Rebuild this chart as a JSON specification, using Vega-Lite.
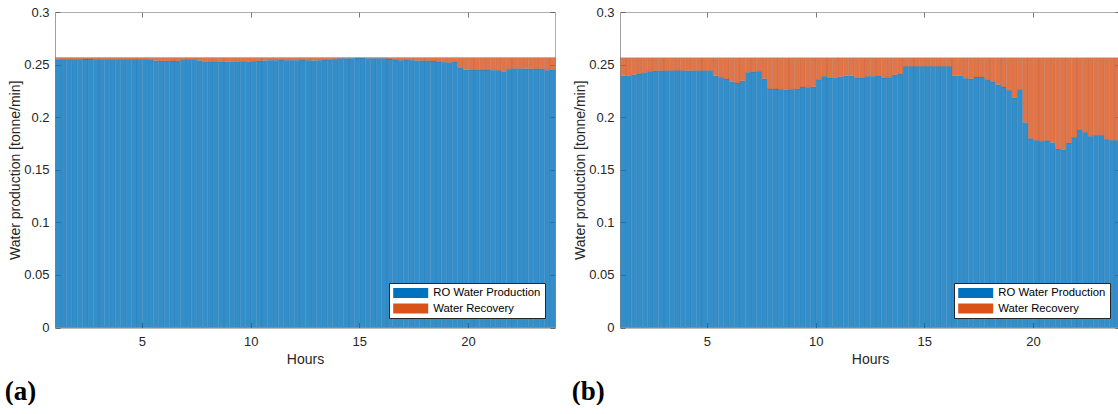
{
  "$schema": "https://vega.github.io/schema/vega-lite/v6.json",
  "padding": {"left": 4, "top": 6, "right": 0, "bottom": 0},
  "config": {
    "font": "Liberation Sans",
    "view": {"stroke": null},
    "axis": {
      "labelFont": "Liberation Sans",
      "labelFontSize": 13,
      "labelColor": "#262626",
      "titleFont": "Liberation Sans",
      "titleFontSize": 14,
      "titleFontWeight": "normal",
      "titleColor": "#262626",
      "grid": false,
      "tickSize": -5,
      "tickWidth": 0.8,
      "domainWidth": 0.8,
      "labelFlush": false
    },
    "legend": {
      "labelFont": "Liberation Sans",
      "labelFontSize": 11.3,
      "labelColor": "#000000",
      "strokeColor": "#262626",
      "fillColor": "#ffffff",
      "padding": 4,
      "rowPadding": 3.5,
      "symbolOffset": 11.7,
      "labelOffset": 16.6
    }
  },
  "datasets": {
    "a": [
      {"h": 1.0, "ro": 0.2545, "wr": 0.0023}, {"h": 1.25, "ro": 0.2550, "wr": 0.0018},
      {"h": 1.5, "ro": 0.2551, "wr": 0.0017}, {"h": 1.75, "ro": 0.2551, "wr": 0.0017},
      {"h": 2.0, "ro": 0.2551, "wr": 0.0017}, {"h": 2.25, "ro": 0.2552, "wr": 0.0016},
      {"h": 2.5, "ro": 0.2552, "wr": 0.0016}, {"h": 2.75, "ro": 0.2551, "wr": 0.0017},
      {"h": 3.0, "ro": 0.2551, "wr": 0.0017}, {"h": 3.25, "ro": 0.2551, "wr": 0.0017},
      {"h": 3.5, "ro": 0.2551, "wr": 0.0017}, {"h": 3.75, "ro": 0.2551, "wr": 0.0017},
      {"h": 4.0, "ro": 0.2551, "wr": 0.0017}, {"h": 4.25, "ro": 0.2551, "wr": 0.0017},
      {"h": 4.5, "ro": 0.2550, "wr": 0.0018}, {"h": 4.75, "ro": 0.2550, "wr": 0.0018},
      {"h": 5.0, "ro": 0.2550, "wr": 0.0018}, {"h": 5.25, "ro": 0.2548, "wr": 0.0020},
      {"h": 5.5, "ro": 0.2537, "wr": 0.0031}, {"h": 5.75, "ro": 0.2535, "wr": 0.0033},
      {"h": 6.0, "ro": 0.2535, "wr": 0.0033}, {"h": 6.25, "ro": 0.2534, "wr": 0.0034},
      {"h": 6.5, "ro": 0.2536, "wr": 0.0032}, {"h": 6.75, "ro": 0.2548, "wr": 0.0020},
      {"h": 7.0, "ro": 0.2551, "wr": 0.0017}, {"h": 7.25, "ro": 0.2550, "wr": 0.0018},
      {"h": 7.5, "ro": 0.2540, "wr": 0.0028}, {"h": 7.75, "ro": 0.2527, "wr": 0.0041},
      {"h": 8.0, "ro": 0.2526, "wr": 0.0042}, {"h": 8.25, "ro": 0.2526, "wr": 0.0042},
      {"h": 8.5, "ro": 0.2527, "wr": 0.0041}, {"h": 8.75, "ro": 0.2528, "wr": 0.0040},
      {"h": 9.0, "ro": 0.2530, "wr": 0.0038}, {"h": 9.25, "ro": 0.2530, "wr": 0.0038},
      {"h": 9.5, "ro": 0.2532, "wr": 0.0036}, {"h": 9.75, "ro": 0.2530, "wr": 0.0038},
      {"h": 10.0, "ro": 0.2531, "wr": 0.0037}, {"h": 10.25, "ro": 0.2536, "wr": 0.0032},
      {"h": 10.5, "ro": 0.2540, "wr": 0.0028}, {"h": 10.75, "ro": 0.2542, "wr": 0.0026},
      {"h": 11.0, "ro": 0.2542, "wr": 0.0026}, {"h": 11.25, "ro": 0.2543, "wr": 0.0025},
      {"h": 11.5, "ro": 0.2542, "wr": 0.0026}, {"h": 11.75, "ro": 0.2541, "wr": 0.0027},
      {"h": 12.0, "ro": 0.2542, "wr": 0.0026}, {"h": 12.25, "ro": 0.2543, "wr": 0.0025},
      {"h": 12.5, "ro": 0.2541, "wr": 0.0027}, {"h": 12.75, "ro": 0.2540, "wr": 0.0028},
      {"h": 13.0, "ro": 0.2542, "wr": 0.0026}, {"h": 13.25, "ro": 0.2543, "wr": 0.0025},
      {"h": 13.5, "ro": 0.2545, "wr": 0.0023}, {"h": 13.75, "ro": 0.2550, "wr": 0.0018},
      {"h": 14.0, "ro": 0.2560, "wr": 0.0008}, {"h": 14.25, "ro": 0.2561, "wr": 0.0007},
      {"h": 14.5, "ro": 0.2561, "wr": 0.0007}, {"h": 14.75, "ro": 0.2562, "wr": 0.0006},
      {"h": 15.0, "ro": 0.2562, "wr": 0.0006}, {"h": 15.25, "ro": 0.2561, "wr": 0.0007},
      {"h": 15.5, "ro": 0.2561, "wr": 0.0007}, {"h": 15.75, "ro": 0.2561, "wr": 0.0007},
      {"h": 16.0, "ro": 0.2560, "wr": 0.0008}, {"h": 16.25, "ro": 0.2552, "wr": 0.0016},
      {"h": 16.5, "ro": 0.2543, "wr": 0.0025}, {"h": 16.75, "ro": 0.2542, "wr": 0.0026},
      {"h": 17.0, "ro": 0.2543, "wr": 0.0025}, {"h": 17.25, "ro": 0.2542, "wr": 0.0026},
      {"h": 17.5, "ro": 0.2540, "wr": 0.0028}, {"h": 17.75, "ro": 0.2538, "wr": 0.0030},
      {"h": 18.0, "ro": 0.2536, "wr": 0.0032}, {"h": 18.25, "ro": 0.2533, "wr": 0.0035},
      {"h": 18.5, "ro": 0.2526, "wr": 0.0042}, {"h": 18.75, "ro": 0.2522, "wr": 0.0046},
      {"h": 19.0, "ro": 0.2520, "wr": 0.0048}, {"h": 19.25, "ro": 0.2524, "wr": 0.0044},
      {"h": 19.5, "ro": 0.2472, "wr": 0.0096}, {"h": 19.75, "ro": 0.2452, "wr": 0.0116},
      {"h": 20.0, "ro": 0.2449, "wr": 0.0119}, {"h": 20.25, "ro": 0.2449, "wr": 0.0119},
      {"h": 20.5, "ro": 0.2448, "wr": 0.0120}, {"h": 20.75, "ro": 0.2448, "wr": 0.0120},
      {"h": 21.0, "ro": 0.2447, "wr": 0.0121}, {"h": 21.25, "ro": 0.2445, "wr": 0.0123},
      {"h": 21.5, "ro": 0.2434, "wr": 0.0134}, {"h": 21.75, "ro": 0.2455, "wr": 0.0113},
      {"h": 22.0, "ro": 0.2463, "wr": 0.0105}, {"h": 22.25, "ro": 0.2463, "wr": 0.0105},
      {"h": 22.5, "ro": 0.2461, "wr": 0.0107}, {"h": 22.75, "ro": 0.2461, "wr": 0.0107},
      {"h": 23.0, "ro": 0.2462, "wr": 0.0106}, {"h": 23.25, "ro": 0.2460, "wr": 0.0108},
      {"h": 23.5, "ro": 0.2446, "wr": 0.0122}, {"h": 23.75, "ro": 0.2449, "wr": 0.0119}
    ],
    "b": [
      {"h": 1.0, "ro": 0.2395, "wr": 0.0171}, {"h": 1.25, "ro": 0.2397, "wr": 0.0169},
      {"h": 1.5, "ro": 0.2404, "wr": 0.0162}, {"h": 1.75, "ro": 0.2410, "wr": 0.0156},
      {"h": 2.0, "ro": 0.2425, "wr": 0.0141}, {"h": 2.25, "ro": 0.2436, "wr": 0.0130},
      {"h": 2.5, "ro": 0.2440, "wr": 0.0126}, {"h": 2.75, "ro": 0.2443, "wr": 0.0123},
      {"h": 3.0, "ro": 0.2443, "wr": 0.0123}, {"h": 3.25, "ro": 0.2443, "wr": 0.0123},
      {"h": 3.5, "ro": 0.2445, "wr": 0.0121}, {"h": 3.75, "ro": 0.2443, "wr": 0.0123},
      {"h": 4.0, "ro": 0.2442, "wr": 0.0124}, {"h": 4.25, "ro": 0.2443, "wr": 0.0123},
      {"h": 4.5, "ro": 0.2443, "wr": 0.0123}, {"h": 4.75, "ro": 0.2443, "wr": 0.0123},
      {"h": 5.0, "ro": 0.2443, "wr": 0.0123}, {"h": 5.25, "ro": 0.2395, "wr": 0.0171},
      {"h": 5.5, "ro": 0.2380, "wr": 0.0186}, {"h": 5.75, "ro": 0.2363, "wr": 0.0203},
      {"h": 6.0, "ro": 0.2340, "wr": 0.0226}, {"h": 6.25, "ro": 0.2325, "wr": 0.0241},
      {"h": 6.5, "ro": 0.2347, "wr": 0.0219}, {"h": 6.75, "ro": 0.2427, "wr": 0.0139},
      {"h": 7.0, "ro": 0.2430, "wr": 0.0136}, {"h": 7.25, "ro": 0.2436, "wr": 0.0130},
      {"h": 7.5, "ro": 0.2366, "wr": 0.0200}, {"h": 7.75, "ro": 0.2268, "wr": 0.0298},
      {"h": 8.0, "ro": 0.2268, "wr": 0.0298}, {"h": 8.25, "ro": 0.2265, "wr": 0.0301},
      {"h": 8.5, "ro": 0.2261, "wr": 0.0305}, {"h": 8.75, "ro": 0.2265, "wr": 0.0301},
      {"h": 9.0, "ro": 0.2270, "wr": 0.0296}, {"h": 9.25, "ro": 0.2287, "wr": 0.0279},
      {"h": 9.5, "ro": 0.2285, "wr": 0.0281}, {"h": 9.75, "ro": 0.2290, "wr": 0.0276},
      {"h": 10.0, "ro": 0.2357, "wr": 0.0209}, {"h": 10.25, "ro": 0.2389, "wr": 0.0177},
      {"h": 10.5, "ro": 0.2373, "wr": 0.0193}, {"h": 10.75, "ro": 0.2378, "wr": 0.0188},
      {"h": 11.0, "ro": 0.2385, "wr": 0.0181}, {"h": 11.25, "ro": 0.2395, "wr": 0.0171},
      {"h": 11.5, "ro": 0.2395, "wr": 0.0171}, {"h": 11.75, "ro": 0.2373, "wr": 0.0193},
      {"h": 12.0, "ro": 0.2373, "wr": 0.0193}, {"h": 12.25, "ro": 0.2389, "wr": 0.0177},
      {"h": 12.5, "ro": 0.2389, "wr": 0.0177}, {"h": 12.75, "ro": 0.2392, "wr": 0.0174},
      {"h": 13.0, "ro": 0.2373, "wr": 0.0193}, {"h": 13.25, "ro": 0.2380, "wr": 0.0186},
      {"h": 13.5, "ro": 0.2404, "wr": 0.0162}, {"h": 13.75, "ro": 0.2411, "wr": 0.0155},
      {"h": 14.0, "ro": 0.2483, "wr": 0.0083}, {"h": 14.25, "ro": 0.2483, "wr": 0.0083},
      {"h": 14.5, "ro": 0.2483, "wr": 0.0083}, {"h": 14.75, "ro": 0.2483, "wr": 0.0083},
      {"h": 15.0, "ro": 0.2483, "wr": 0.0083}, {"h": 15.25, "ro": 0.2483, "wr": 0.0083},
      {"h": 15.5, "ro": 0.2483, "wr": 0.0083}, {"h": 15.75, "ro": 0.2483, "wr": 0.0083},
      {"h": 16.0, "ro": 0.2483, "wr": 0.0083}, {"h": 16.25, "ro": 0.2395, "wr": 0.0171},
      {"h": 16.5, "ro": 0.2395, "wr": 0.0171}, {"h": 16.75, "ro": 0.2370, "wr": 0.0196},
      {"h": 17.0, "ro": 0.2366, "wr": 0.0200}, {"h": 17.25, "ro": 0.2382, "wr": 0.0184},
      {"h": 17.5, "ro": 0.2382, "wr": 0.0184}, {"h": 17.75, "ro": 0.2357, "wr": 0.0209},
      {"h": 18.0, "ro": 0.2338, "wr": 0.0228}, {"h": 18.25, "ro": 0.2309, "wr": 0.0257},
      {"h": 18.5, "ro": 0.2287, "wr": 0.0279}, {"h": 18.75, "ro": 0.2255, "wr": 0.0311},
      {"h": 19.0, "ro": 0.2183, "wr": 0.0383}, {"h": 19.25, "ro": 0.2262, "wr": 0.0304},
      {"h": 19.5, "ro": 0.1950, "wr": 0.0616}, {"h": 19.75, "ro": 0.1796, "wr": 0.0770},
      {"h": 20.0, "ro": 0.1780, "wr": 0.0786}, {"h": 20.25, "ro": 0.1770, "wr": 0.0796},
      {"h": 20.5, "ro": 0.1777, "wr": 0.0789}, {"h": 20.75, "ro": 0.1760, "wr": 0.0806},
      {"h": 21.0, "ro": 0.1698, "wr": 0.0868}, {"h": 21.25, "ro": 0.1690, "wr": 0.0876},
      {"h": 21.5, "ro": 0.1755, "wr": 0.0811}, {"h": 21.75, "ro": 0.1808, "wr": 0.0758},
      {"h": 22.0, "ro": 0.1882, "wr": 0.0684}, {"h": 22.25, "ro": 0.1856, "wr": 0.0710},
      {"h": 22.5, "ro": 0.1818, "wr": 0.0748}, {"h": 22.75, "ro": 0.1827, "wr": 0.0739},
      {"h": 23.0, "ro": 0.1827, "wr": 0.0739}, {"h": 23.25, "ro": 0.1790, "wr": 0.0776},
      {"h": 23.5, "ro": 0.1780, "wr": 0.0786}, {"h": 23.75, "ro": 0.1780, "wr": 0.0786}
    ]
  },
  "hconcat": [
    {
      "width": 500,
      "height": 315.5,
      "data": {"name": "a"},
      "transform": [{"fold": ["ro", "wr"], "as": ["series", "val"]}],
      "title": {"text": "(a)", "orient": "bottom", "anchor": "start", "frame": "bounds", "font": "Liberation Serif", "fontSize": 27, "fontWeight": "bold", "color": "#000000", "offset": 12, "dx": -4},
      "layer": [
        {
          "mark": {"type": "bar", "binSpacing": 0, "fillOpacity": 0.8, "stroke": "#0a3a66", "strokeOpacity": 0.12, "strokeWidth": 0.6},
          "encoding": {
            "x": {"field": "h", "type": "quantitative", "bin": {"step": 0.25, "extent": [1, 24]}, "scale": {"domain": [1, 24], "nice": false, "zero": false},
                  "axis": {"orient": "bottom", "values": [5, 10, 15, 20], "format": "d", "labelPadding": 13, "title": "Hours", "titlePadding": 4, "domainColor": "#555555", "tickColor": "#555555"}},
            "y": {"field": "val", "type": "quantitative", "aggregate": "sum", "stack": "zero", "scale": {"domain": [0, 0.3], "nice": false, "zero": false},
                  "axis": {"orient": "left", "values": [0, 0.05, 0.1, 0.15, 0.2, 0.25, 0.3], "format": "~g", "labelPadding": 11, "title": "Water production [tonne/min]", "titlePadding": 1, "domainColor": "#888888", "tickColor": "#555555"}},
            "color": {"field": "series", "type": "nominal", "scale": {"domain": ["ro", "wr"], "range": ["#0072BD", "#D95319"]},
                      "legend": {"title": null, "orient": "bottom-right", "offset": 10, "labelExpr": "datum.value == 'ro' ? 'RO Water Production' : 'Water Recovery'", "symbolType": "M-3,-0.87H3V0.87H-3Z", "symbolSize": 136, "symbolOpacity": 1, "symbolStrokeWidth": 0}},
            "order": {"field": "series", "sort": "ascending"}
          }
        },
        {
          "mark": {"type": "bar", "binSpacing": 0, "opacity": 0},
          "encoding": {
            "x": {"field": "h", "type": "quantitative", "bin": {"step": 0.25, "extent": [1, 24]},
                  "axis": {"orient": "top", "values": [5, 10, 15, 20], "labels": false, "title": null, "domainColor": "#999999", "tickColor": "#555555"}},
            "y": {"field": "val", "type": "quantitative", "aggregate": "sum",
                  "axis": {"orient": "right", "values": [0, 0.05, 0.1, 0.15, 0.2, 0.25, 0.3], "labels": false, "title": null, "domainColor": "#999999", "tickColor": "#555555"}}
          }
        }
      ],
      "resolve": {"axis": {"x": "independent", "y": "independent"}}
    },
    {
      "width": 500,
      "height": 315.5,
      "data": {"name": "b"},
      "transform": [{"fold": ["ro", "wr"], "as": ["series", "val"]}],
      "title": {"text": "(b)", "orient": "bottom", "anchor": "start", "frame": "bounds", "font": "Liberation Serif", "fontSize": 27, "fontWeight": "bold", "color": "#000000", "offset": 12, "dx": -2},
      "layer": [
        {
          "mark": {"type": "bar", "binSpacing": 0, "fillOpacity": 0.8, "stroke": "#0a3a66", "strokeOpacity": 0.12, "strokeWidth": 0.6},
          "encoding": {
            "x": {"field": "h", "type": "quantitative", "bin": {"step": 0.25, "extent": [1, 24]}, "scale": {"domain": [1, 24], "nice": false, "zero": false},
                  "axis": {"orient": "bottom", "values": [5, 10, 15, 20], "format": "d", "labelPadding": 13, "title": "Hours", "titlePadding": 4, "domainColor": "#555555", "tickColor": "#555555"}},
            "y": {"field": "val", "type": "quantitative", "aggregate": "sum", "stack": "zero", "scale": {"domain": [0, 0.3], "nice": false, "zero": false},
                  "axis": {"orient": "left", "values": [0, 0.05, 0.1, 0.15, 0.2, 0.25, 0.3], "format": "~g", "labelPadding": 11, "title": "Water production [tonne/min]", "titlePadding": 1, "domainColor": "#888888", "tickColor": "#555555"}},
            "color": {"field": "series", "type": "nominal", "scale": {"domain": ["ro", "wr"], "range": ["#0072BD", "#D95319"]},
                      "legend": {"title": null, "orient": "bottom-right", "offset": 10, "labelExpr": "datum.value == 'ro' ? 'RO Water Production' : 'Water Recovery'", "symbolType": "M-3,-0.87H3V0.87H-3Z", "symbolSize": 136, "symbolOpacity": 1, "symbolStrokeWidth": 0}},
            "order": {"field": "series", "sort": "ascending"}
          }
        },
        {
          "mark": {"type": "bar", "binSpacing": 0, "opacity": 0},
          "encoding": {
            "x": {"field": "h", "type": "quantitative", "bin": {"step": 0.25, "extent": [1, 24]},
                  "axis": {"orient": "top", "values": [5, 10, 15, 20], "labels": false, "title": null, "domainColor": "#999999", "tickColor": "#555555"}},
            "y": {"field": "val", "type": "quantitative", "aggregate": "sum",
                  "axis": {"orient": "right", "values": [0, 0.05, 0.1, 0.15, 0.2, 0.25, 0.3], "labels": false, "title": null, "domainColor": "#999999", "tickColor": "#555555"}}
          }
        }
      ],
      "resolve": {"axis": {"x": "independent", "y": "independent"}}
    }
  ],
  "spacing": 65,
  "bounds": "flush",
  "resolve": {"legend": {"color": "independent"}, "scale": {"color": "independent"}}
}
